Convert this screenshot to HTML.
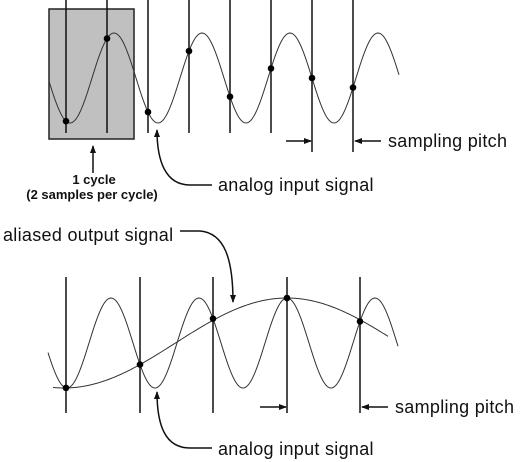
<!DOCTYPE html>
<html><head><meta charset="utf-8">
<style>
html,body{margin:0;padding:0;background:#fff;}
svg{display:block;font-family:"Liberation Sans",Arial,sans-serif;}
.lbl{font-size:18px;letter-spacing:0.3px;}
</style></head>
<body>
<svg id="fig" width="522" height="462" viewBox="0 0 522 462">
  <defs>
    <marker id="ah" markerWidth="8" markerHeight="8" refX="7" refY="4" orient="auto" markerUnits="userSpaceOnUse">
      <path d="M0,1 L8,4 L0,7 Z" fill="#111"/>
    </marker>
  </defs>
  <rect x="49" y="9" width="85" height="130" fill="#c0c0c0" stroke="#222" stroke-width="1.5"/>
  <g id="topPanel"></g>
  <g id="botPanel"></g>

  <line x1="286" y1="141" x2="311" y2="141" stroke="#111" stroke-width="1.5" marker-end="url(#ah)"/>
  <line x1="381" y1="141" x2="355" y2="141" stroke="#111" stroke-width="1.5" marker-end="url(#ah)"/>
  <text class="lbl" x="388" y="147" fill="#111">sampling pitch</text>
  <line x1="93" y1="173" x2="93" y2="146" stroke="#111" stroke-width="1.5" marker-end="url(#ah)"/>
  <text x="94" y="184" font-size="13" font-weight="bold" text-anchor="middle" fill="#111">1 cycle</text>
  <text x="92" y="199" font-size="13" font-weight="bold" text-anchor="middle" fill="#111">(2 samples per cycle)</text>
  <path d="M212,185 L190,185 C165,185 157,160 157,130" fill="none" stroke="#111" stroke-width="1.5" marker-end="url(#ah)"/>
  <text class="lbl" x="218" y="191" fill="#111">analog input signal</text>

  <text class="lbl" x="3" y="241" fill="#111">aliased output signal</text>
  <path d="M180,231 L200,231 C225,233 233,260 233,302" fill="none" stroke="#111" stroke-width="1.5" marker-end="url(#ah)"/>
  <line x1="260" y1="407" x2="286" y2="407" stroke="#111" stroke-width="1.5" marker-end="url(#ah)"/>
  <line x1="388" y1="407" x2="362" y2="407" stroke="#111" stroke-width="1.5" marker-end="url(#ah)"/>
  <text class="lbl" x="395" y="413" fill="#111">sampling pitch</text>
  <path d="M212,448 L190,448 C165,448 157,425 157,392" fill="none" stroke="#111" stroke-width="1.5" marker-end="url(#ah)"/>
  <text class="lbl" x="218" y="455" fill="#111">analog input signal</text>
</svg>
<script>
const topSamples = [66, 107, 148, 189, 230, 271, 312, 353];
const topLongLines = [312, 353];
const topPeriod = 88, topTroughX = 70, topCenter = 78, topAmp = 45;
const botSamples = [66, 140, 213, 287, 360];
const botPeriod = 88, botPeakX = 287, botCenter = 343, botAmp = 45;
const botPitch = 73.5;

const NS = "http://www.w3.org/2000/svg";
function mk(tag, attrs, parent){const e=document.createElementNS(NS,tag);for(const k in attrs)e.setAttribute(k,attrs[k]);parent.appendChild(e);return e;}
const topFn = x => topCenter + topAmp*Math.cos(2*Math.PI*(x-topTroughX)/topPeriod);
const botFn = x => botCenter - botAmp*Math.cos(2*Math.PI*(x-botPeakX)/botPeriod);
const aliasPeriod = 1/Math.abs(1/botPeriod - 1/botPitch);
const aliasFn = x => botCenter - botAmp*Math.cos(2*Math.PI*(x-botPeakX)/aliasPeriod);
function pathOf(fn,x0,x1){let d="";for(let x=x0;x<=x1;x+=1)d+=(x===x0?"M":"L")+x+","+fn(x).toFixed(2);return d;}

const topG = document.getElementById('topPanel');
topSamples.forEach(x=>{
  const l = mk('line',{x1:x,y1:0,x2:x,y2:topLongLines.includes(x)?152:133,stroke:'#111','stroke-width':1.5},topG);
  
  
});
const tc = mk('path',{d:pathOf(topFn,49,399),fill:'none',stroke:'#333','stroke-width':1},topG);


topSamples.forEach(x=>{
  const c = mk('circle',{cx:x,cy:topFn(x),r:3.3,fill:'#000'},topG);
  
  
});

const botG = document.getElementById('botPanel');
botSamples.forEach(x=>{
  const l = mk('line',{x1:x,y1:277,x2:x,y2:413,stroke:'#111','stroke-width':1.5},botG);
  
  
});
const bc = mk('path',{d:pathOf(botFn,48,398),fill:'none',stroke:'#333','stroke-width':1},botG);


const ac = mk('path',{d:pathOf(aliasFn,53,388),fill:'none',stroke:'#333','stroke-width':1},botG);


botSamples.forEach(x=>{
  const c = mk('circle',{cx:x,cy:botFn(x),r:3.3,fill:'#000'},botG);
  
  
});
</script>
</body></html>
